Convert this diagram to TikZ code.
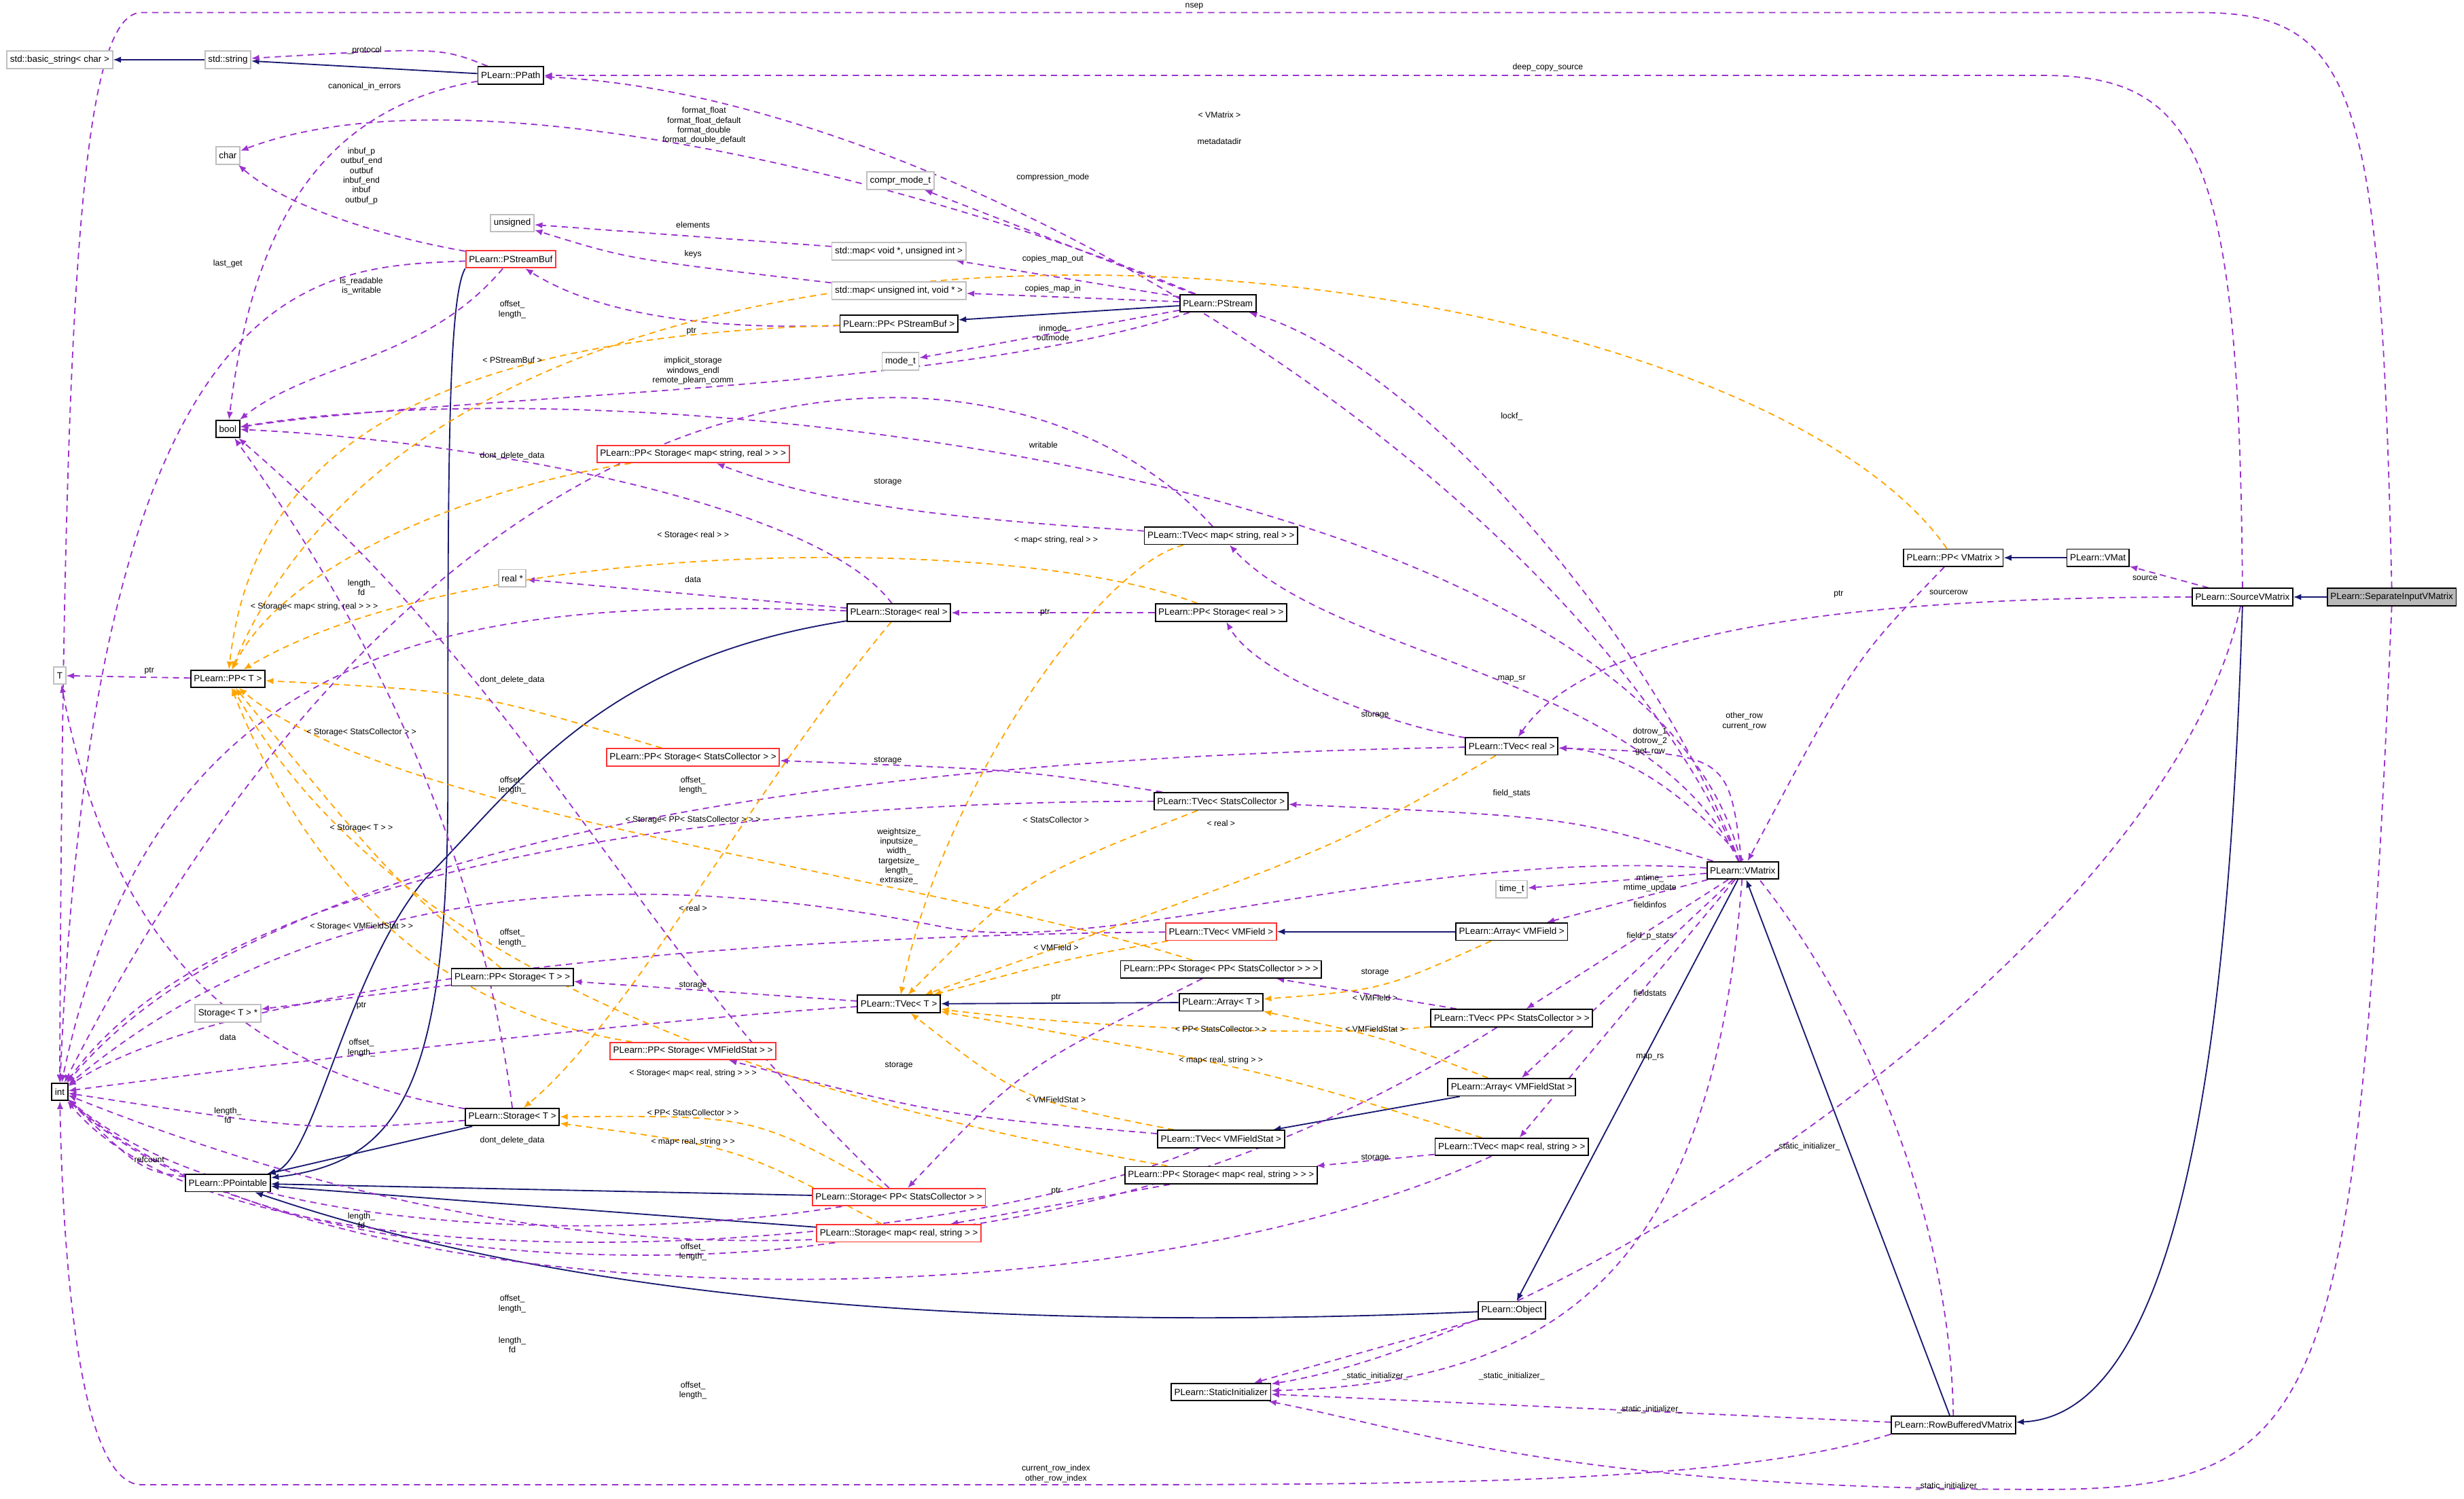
\documentclass[tikz,border=0pt]{standalone}
\usepackage{fontspec}
\setmainfont{Liberation Sans}
\usetikzlibrary{arrows.meta,backgrounds}
\definecolor{inh}{HTML}{191970}
\definecolor{usec}{HTML}{9A32CD}
\definecolor{tmplc}{HTML}{FFA500}
\begin{document}
\begin{tikzpicture}[x=1pt,y=-1pt,
 box/.style={draw=black,thick,fill=white,rectangle,inner sep=2pt,minimum height=11pt,font=\fontsize{5.8}{6}\selectfont},
 ext/.style={box,draw=gray!50},
 redb/.style={box,draw=red!80},
 mainb/.style={box,fill=gray!55},
 lbl/.style={font=\fontsize{5.3}{6.2}\selectfont,align=center,inner sep=0pt},
 inhe/.style={-{Latex[length=5pt,width=4pt]},draw=inh,thick},
 usee/.style={-{Latex[length=5pt,width=4pt]},draw=usec,dash pattern=on 4pt off 3pt,thick},
 tmpe/.style={-{Latex[length=5pt,width=4pt]},draw=tmplc,dash pattern=on 4pt off 3pt,thick}]
\useasboundingbox (0,0) rectangle (1568,954);
% nodes
\node[ext] (bstr) at (38,38) {std::basic\_string< char >};
\node[ext] (str) at (145,38) {std::string};
\node[box] (ppath) at (325,48) {PLearn::PPath};
\node[ext] (chr) at (145,99) {char};
\node[ext] (uns) at (326,142) {unsigned};
\node[ext] (cmt) at (573,115) {compr\_mode\_t};
\node[ext] (mvu) at (572,160) {std::map< void *, unsigned int >};
\node[ext] (muv) at (572,185) {std::map< unsigned int, void * >};
\node[redb] (psb) at (325,165) {PLearn::PStreamBuf};
\node[box] (pppsb) at (572,206) {PLearn::PP< PStreamBuf >};
\node[box] (pstr) at (775,193) {PLearn::PStream};
\node[ext] (modet) at (573,230) {mode\_t};
\node[box] (bool) at (145,273) {bool};
\node[redb] (ppsmsr) at (441,289) {PLearn::PP< Storage< map< string, real > > >};
\node[box] (tvmsr) at (777,341) {PLearn::TVec< map< string, real > >};
\node[ext] (realp) at (326,368) {real *};
\node[box] (sreal) at (572,390) {PLearn::Storage< real >};
\node[box] (ppsreal) at (777,390) {PLearn::PP< Storage< real > >};
\node[ext] (T) at (38,430) {T};
\node[box] (ppT) at (145,432) {PLearn::PP< T >};
\node[redb] (ppssc) at (441,482) {PLearn::PP< Storage< StatsCollector > >};
\node[box] (tvreal) at (962,475) {PLearn::TVec< real >};
\node[box] (tvsc) at (777,510) {PLearn::TVec< StatsCollector >};
\node[box] (vmx) at (1109,554) {PLearn::VMatrix};
\node[ext] (timet) at (962,566) {time\_t};
\node[redb] (tvvmf) at (777,593) {PLearn::TVec< VMField >};
\node[box] (arvmf) at (962,593) {PLearn::Array< VMField >};
\node[box] (ppsppsc) at (777,617) {PLearn::PP< Storage< PP< StatsCollector > > >};
\node[box] (ppsT) at (326,622) {PLearn::PP< Storage< T > >};
\node[ext] (sTp) at (145,645) {Storage< T > *};
\node[box] (tvT) at (572,639) {PLearn::TVec< T >};
\node[box] (arT) at (777,638) {PLearn::Array< T >};
\node[box] (tvppsc) at (962,648) {PLearn::TVec< PP< StatsCollector > >};
\node[redb] (ppsvmfs) at (441,669) {PLearn::PP< Storage< VMFieldStat > >};
\node[box] (int) at (38,695) {int};
\node[box] (arvmfs) at (962,692) {PLearn::Array< VMFieldStat >};
\node[box] (sT) at (326,711) {PLearn::Storage< T >};
\node[box] (tvvmfs) at (777,725) {PLearn::TVec< VMFieldStat >};
\node[box] (tvmrs) at (962,730) {PLearn::TVec< map< real, string > >};
\node[box] (ppt) at (145,753) {PLearn::PPointable};
\node[box] (ppsmrs) at (777,748) {PLearn::PP< Storage< map< real, string > > >};
\node[redb] (sppsc) at (572,762) {PLearn::Storage< PP< StatsCollector > >};
\node[redb] (smrs) at (572,785) {PLearn::Storage< map< real, string > >};
\node[box] (obj) at (962,834) {PLearn::Object};
\node[box] (si) at (777,886) {PLearn::StaticInitializer};
\node[box] (rbv) at (1243,907) {PLearn::RowBufferedVMatrix};
\node[box] (ppvm) at (1243,355) {PLearn::PP< VMatrix >};
\node[box] (vmat) at (1335,355) {PLearn::VMat};
\node[box] (svm) at (1427,380) {PLearn::SourceVMatrix};
\node[mainb] (sep) at (1522,380) {PLearn::SeparateInputVMatrix};
\begin{scope}[on background layer]
% inheritance
\draw[inhe] (str) -- (bstr);
\draw[inhe] (ppath) -- (str);
\draw[inhe] (psb.south west) .. controls (285,190) and (285,300) .. (285,500) .. controls (285,700) and (250,740) .. (ppt);
\draw[inhe] (pstr) -- (pppsb);
\draw[inhe] (sreal) .. controls (380,420) and (330,500) .. (270,560) .. controls (220,620) and (200,740) .. (ppt);
\draw[inhe] (vmat) -- (ppvm);
\draw[inhe] (sep) -- (svm);
\draw[inhe] (svm.south) .. controls (1420,600) and (1400,900) .. (rbv);
\draw[inhe] (rbv) -- (vmx);
\draw[inhe] (vmx) -- (obj);
\draw[inhe] (obj) .. controls (700,845) and (400,840) .. (ppt);
\draw[inhe] (arvmf) -- (tvvmf);
\draw[inhe] (arT) -- (tvT);
\draw[inhe] (arvmfs) -- (tvvmfs);
\draw[inhe] (sT) -- (ppt);
\draw[inhe] (sppsc) -- (ppt);
\draw[inhe] (smrs) -- (ppt);
% usage
\draw[usee] (ppath) .. controls (280,30) .. (str);
\draw[usee] (ppath) .. controls (200,70) and (160,150) .. (bool);
\draw[usee] (pstr) .. controls (600,120) and (300,40) .. (chr);
\draw[usee] (psb) .. controls (240,150) and (180,130) .. (chr);
\draw[usee] (psb) .. controls (200,170) and (60,170) .. (int);
\draw[usee] (psb) .. controls (270,230) and (200,230) .. (bool);
\draw[usee] (pppsb) .. controls (450,210) and (380,200) .. (psb);
\draw[usee] (mvu) -- (uns);
\draw[usee] (muv) .. controls (400,165) .. (uns);
\draw[usee] (pstr) -- (cmt);
\draw[usee] (pstr) -- (mvu);
\draw[usee] (pstr) -- (muv);
\draw[usee] (pstr) -- (modet);
\draw[usee] (pstr) .. controls (600,250) and (300,250) .. (bool);
\draw[tmpe] (pppsb) .. controls (250,215) and (160,300) .. (ppT);
\draw[usee] (tvmsr) .. controls (650,200) and (300,180) .. (int);
\draw[usee] (tvmsr) .. controls (600,330) and (520,320) .. (ppsmsr);
\draw[usee] (sreal) .. controls (520,320) and (300,280) .. (bool);
\draw[usee] (vmx) .. controls (1050,300) and (400,230) .. (bool);
\draw[tmpe] (ppsmsr) .. controls (300,310) and (180,360) .. (ppT);
\draw[usee] (sreal) -- (realp);
\draw[usee] (sreal) .. controls (300,380) and (100,400) .. (int);
\draw[usee] (ppsreal) -- (sreal);
\draw[tmpe] (ppsreal) .. controls (650,340) and (300,340) .. (ppT);
\draw[tmpe] (tvmsr) .. controls (700,360) and (600,500) .. (tvT);
\draw[usee] (ppT) -- (T);
\draw[usee] (vmx) .. controls (1100,480) .. (tvreal);
\draw[usee] (tvreal) .. controls (880,460) and (800,430) .. (ppsreal);
\draw[usee] (vmx) .. controls (1050,430) and (850,420) .. (tvmsr);
\draw[usee] (vmx) .. controls (1050,400) and (900,230) .. (pstr);
\draw[usee] (vmx) .. controls (1000,300) and (600,60) .. (ppath);
\draw[usee] (svm.north) .. controls (1425,100) and (1400,48) .. (1300,48) -- (ppath);
\draw[usee] (sep.north) .. controls (1515,60) and (1500,8) .. (1400,8) -- (90,8) .. controls (50,8) and (40,200) .. (int);
\draw[usee] (sep.south) .. controls (1500,900) and (1480,948) .. (1300,948) .. controls (1000,948) and (900,910) .. (si);
\draw[tmpe] (ppvm) .. controls (1100,150) and (300,60) .. (ppT);
\draw[usee] (svm) -- (vmat);
\draw[usee] (svm) .. controls (1100,380) and (1000,420) .. (tvreal);
\draw[usee] (ppvm) .. controls (1180,420) .. (vmx);
\draw[usee] (vmx) .. controls (1000,520) .. (tvsc);
\draw[usee] (tvsc) .. controls (650,490) .. (ppssc);
\draw[usee] (tvsc) .. controls (500,510) and (150,540) .. (int);
\draw[tmpe] (ppssc) .. controls (300,440) .. (ppT);
\draw[usee] (vmx) -- (timet);
\draw[usee] (vmx) -- (arvmf);
\draw[usee] (vmx) -- (tvppsc);
\draw[usee] (vmx) -- (arvmfs);
\draw[usee] (vmx) -- (tvmrs);
\draw[usee] (vmx) .. controls (900,540) and (700,610) .. (600,590) .. controls (400,550) and (200,560) .. (int);
\draw[tmpe] (tvreal) .. controls (850,540) .. (tvT);
\draw[tmpe] (tvsc) .. controls (650,560) .. (tvT);
\draw[usee] (tvreal) .. controls (700,480) and (200,500) .. (int);
\draw[usee] (tvvmf) .. controls (500,595) and (150,620) .. (int);
\draw[tmpe] (ppsvmfs) .. controls (250,640) and (180,520) .. (ppT);
\draw[tmpe] (tvvmf) .. controls (680,610) .. (tvT);
\draw[tmpe] (ppsppsc) .. controls (600,560) and (250,520) .. (ppT);
\draw[usee] (ppsppsc) .. controls (650,680) .. (sppsc);
\draw[usee] (tvppsc) -- (ppsppsc);
\draw[tmpe] (tvppsc) .. controls (850,660) and (700,655) .. (tvT);
\draw[tmpe] (arvmf) .. controls (880,630) .. (arT);
\draw[tmpe] (arvmfs) .. controls (880,660) .. (arT);
\draw[usee] (tvT) -- (ppsT);
\draw[usee] (tvT) .. controls (400,650) and (150,680) .. (int);
\draw[usee] (ppsT) -- (sTp);
\draw[tmpe] (ppsT) .. controls (250,560) .. (ppT);
\draw[usee] (sT) .. controls (150,680) and (70,600) .. (T);
\draw[usee] (sT) .. controls (200,720) .. (int);
\draw[usee] (sT.north) .. controls (300,500) and (200,350) .. (bool);
\draw[usee] (tvvmfs) .. controls (600,710) .. (ppsvmfs);
\draw[tmpe] (tvvmfs) .. controls (650,700) .. (tvT);
\draw[tmpe] (tvmrs) .. controls (800,680) .. (tvT);
\draw[usee] (tvmrs) -- (ppsmrs);
\draw[usee] (tvmrs) .. controls (700,850) and (200,840) .. (int);
\draw[usee] (ppsmrs) -- (smrs);
\draw[tmpe] (ppsmrs) .. controls (500,700) and (250,620) .. (ppT);
\draw[tmpe] (sppsc) .. controls (480,710) .. (sT);
\draw[tmpe] (smrs) .. controls (470,730) .. (sT);
\draw[tmpe] (sreal) .. controls (480,500) and (400,650) .. (sT);
\draw[usee] (sppsc) .. controls (400,790) and (150,790) .. (int);
\draw[usee] (smrs) .. controls (400,810) and (150,800) .. (int);
\draw[usee] (sppsc) .. controls (400,600) and (350,450) .. (bool);
\draw[usee] (ppt) .. controls (90,745) .. (int);
\draw[usee] (obj) -- (si);
\draw[usee] (vmx) .. controls (1090,800) and (1000,880) .. (si);
\draw[usee] (rbv) -- (si);
\draw[usee] (svm) .. controls (1380,600) and (1000,850) .. (si);
\draw[usee] (rbv.south west) .. controls (1100,945) and (900,945) .. (672,945) -- (90,945) .. controls (50,945) and (40,800) .. (int);
\draw[usee] (rbv.north) .. controls (1240,700) and (1100,480) .. (tvreal);
\draw[usee] (tvvmfs) .. controls (600,800) and (150,830) .. (int);
\draw[usee] (tvppsc) .. controls (800,750) and (500,880) .. (int);
\end{scope}
% labels
\node[lbl] (l1) at (232,32) {\_protocol};
\node[lbl] (l2) at (232,55) {canonical\_in\_errors};
\node[lbl] (l3) at (448,80) {format\_float\\format\_float\_default\\format\_double\\format\_double\_default};
\node[lbl] (l4) at (230,112) {inbuf\_p\\outbuf\_end\\outbuf\\inbuf\_end\\inbuf\\outbuf\_p};
\node[lbl] (l5) at (145,168) {last\_get};
\node[lbl] (l6) at (230,182) {is\_readable\\is\_writable};
\node[lbl] (l7) at (440,211) {ptr};
\node[lbl] (l8) at (441,143) {elements};
\node[lbl] (l9) at (441,162) {keys};
\node[lbl] (l10) at (670,113) {compression\_mode};
\node[lbl] (l11) at (670,165) {copies\_map\_out};
\node[lbl] (l12) at (670,184) {copies\_map\_in};
\node[lbl] (l13) at (670,212) {inmode\\outmode};
\node[lbl] (l14) at (441,236) {implicit\_storage\\windows\_endl\\remote\_plearn\_comm};
\node[lbl] (l15) at (326,229) {< PStreamBuf >};
\node[lbl] (l16) at (326,197) {offset\_\\length\_};
\node[lbl] (l17) at (565,307) {storage};
\node[lbl] (l18) at (326,290) {dont\_delete\_data};
\node[lbl] (l19) at (664,283) {writable};
\node[lbl] (l20) at (200,386) {< Storage< map< string, real > > >};
\node[lbl] (l21) at (441,369) {data};
\node[lbl] (l22) at (230,374) {length\_\\fd};
\node[lbl] (l23) at (665,390) {ptr};
\node[lbl] (l24) at (441,341) {< Storage< real > >};
\node[lbl] (l25) at (672,344) {< map< string, real > >};
\node[lbl] (l26) at (95,427) {ptr};
\node[lbl] (l27) at (1110,459) {other\_row\\current\_row};
\node[lbl] (l27b) at (1050,472) {dotrow\_1\\dotrow\_2\\get\_row};
\node[lbl] (l28) at (875,455) {storage};
\node[lbl] (l29) at (962,432) {map\_sr};
\node[lbl] (l30) at (962,265) {lockf\_};
\node[lbl] (l31) at (776,90) {metadatadir};
\node[lbl] (l32) at (985,43) {deep\_copy\_source};
\node[lbl] (l33) at (760,4) {nsep};
\node[lbl] (l34) at (1240,946) {\_static\_initializer\_};
\node[lbl] (l35) at (776,73) {< VMatrix >};
\node[lbl] (l36) at (1365,368) {source};
\node[lbl] (l37) at (1240,377) {sourcerow};
\node[lbl] (l38) at (1170,378) {ptr};
\node[lbl] (l39) at (962,505) {field\_stats};
\node[lbl] (l40) at (565,484) {storage};
\node[lbl] (l41) at (441,500) {offset\_\\length\_};
\node[lbl] (l42) at (230,466) {< Storage< StatsCollector > >};
\node[lbl] (l43) at (1050,562) {mtime\_\\mtime\_update};
\node[lbl] (l44) at (1050,576) {fieldinfos};
\node[lbl] (l45) at (1050,596) {field\_p\_stats};
\node[lbl] (l46) at (1050,632) {fieldstats};
\node[lbl] (l47) at (1050,673) {map\_rs};
\node[lbl] (l48) at (572,545) {weightsize\_\\inputsize\_\\width\_\\targetsize\_\\length\_\\extrasize\_};
\node[lbl] (l49) at (777,524) {< real >};
\node[lbl] (l50) at (672,522) {< StatsCollector >};
\node[lbl] (l51) at (326,500) {offset\_\\length\_};
\node[lbl] (l52) at (326,597) {offset\_\\length\_};
\node[lbl] (l53) at (230,590) {< Storage< VMFieldStat > >};
\node[lbl] (l54) at (672,603) {< VMField >};
\node[lbl] (l55) at (441,522) {< Storage< PP< StatsCollector > > >};
\node[lbl] (l56) at (672,635) {ptr};
\node[lbl] (l57) at (875,619) {storage};
\node[lbl] (l58) at (777,655) {< PP< StatsCollector > >};
\node[lbl] (l59) at (875,635) {< VMField >};
\node[lbl] (l60) at (875,655) {< VMFieldStat >};
\node[lbl] (l61) at (441,627) {storage};
\node[lbl] (l62) at (230,667) {offset\_\\length\_};
\node[lbl] (l63) at (230,640) {ptr};
\node[lbl] (l64) at (230,527) {< Storage< T > >};
\node[lbl] (l65) at (145,660) {data};
\node[lbl] (l66) at (145,710) {length\_\\fd};
\node[lbl] (l67) at (326,726) {dont\_delete\_data};
\node[lbl] (l68) at (572,678) {storage};
\node[lbl] (l69) at (672,700) {< VMFieldStat >};
\node[lbl] (l70) at (777,675) {< map< real, string > >};
\node[lbl] (l71) at (875,737) {storage};
\node[lbl] (l72) at (326,830) {offset\_\\length\_};
\node[lbl] (l73) at (672,758) {ptr};
\node[lbl] (l74) at (441,683) {< Storage< map< real, string > > >};
\node[lbl] (l75) at (441,708) {< PP< StatsCollector > >};
\node[lbl] (l76) at (441,727) {< map< real, string > >};
\node[lbl] (l77) at (441,578) {< real >};
\node[lbl] (l78) at (230,777) {length\_\\fd};
\node[lbl] (l79) at (441,797) {offset\_\\length\_};
\node[lbl] (l80) at (326,433) {dont\_delete\_data};
\node[lbl] (l82) at (95,738) {refcount};
\node[lbl] (l83) at (875,876) {\_static\_initializer\_};
\node[lbl] (l84) at (962,876) {\_static\_initializer\_};
\node[lbl] (l85) at (1050,897) {\_static\_initializer\_};
\node[lbl] (l86) at (1150,730) {\_static\_initializer\_};
\node[lbl] (l87) at (672,938) {current\_row\_index\\other\_row\_index};
\node[lbl] (l89) at (326,856) {length\_\\fd};
\node[lbl] (l91) at (441,885) {offset\_\\length\_};
\end{tikzpicture}
\end{document}
